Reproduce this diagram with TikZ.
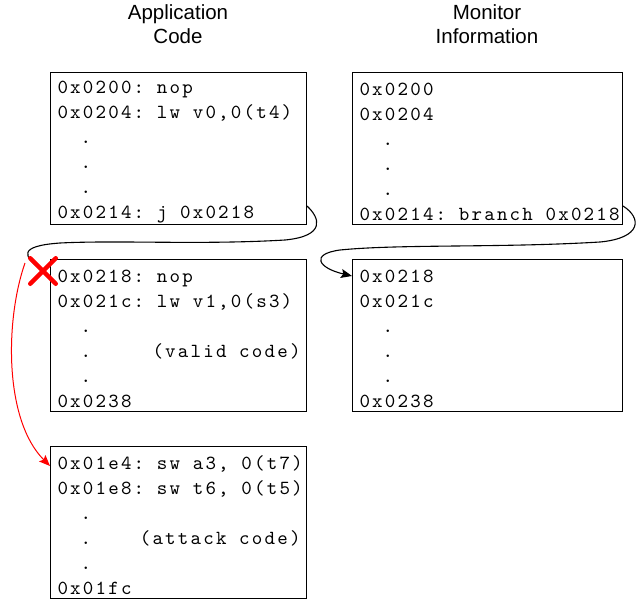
\documentclass[tikz,border=0pt]{standalone}
\usepackage{fontspec}
\setmainfont{Liberation Sans}
\setsansfont{Liberation Sans}
\newfontfamily\codefont{lmmono10-regular.otf}[LetterSpace=11]
\usetikzlibrary{arrows.meta,shapes.misc}

\newcommand\ind{\hphantom{00}}
\newcommand\codestart{\spaceskip=12.7pt\relax\vrule height 20pt width 0pt\relax}

\tikzset{
  title/.style={font=\sffamily\fontsize{20.5pt}{24pt}\selectfont, align=center, inner sep=0pt},
  codebox/.style={draw, line width=1pt, anchor=north west, align=left,
    inner xsep=7pt, inner ysep=0pt, minimum height=152pt, text width=#1,
    font=\codefont\frenchspacing\fontsize{20pt}{25pt}\selectfont,
    execute at begin node=\codestart},
  jump/.style={line width=1.1pt, -{Stealth[length=11pt,width=9pt,inset=2pt]}},
  attack/.style={red, line width=1pt, -{Stealth[length=11pt,width=9pt,inset=2pt]}},
  blocked/.style={cross out, draw=red, line width=4.5pt, line cap=round, minimum size=21pt, inner sep=0pt}
}

\begin{document}
\begin{tikzpicture}[x=1pt, y=-1pt]
\useasboundingbox (0,0) rectangle (637,603);

% ===== Titles =====
\node[title] (apptitle) at (178,24.5) {Application\\Code};
\node[title] (montitle) at (487,24.5) {Monitor\\Information};

% ===== Application code =====
\node[codebox=242pt] (app1) at (50,72) {0x0200: nop\\0x0204: lw v0,0(t4)\\\ind.\\\ind.\\\ind.\\0x0214: j 0x0218};
\node[codebox=242pt] (app2) at (50,259) {0x0218: nop\\0x021c: lw v1,0(s3)\\\ind.\\\ind.\hphantom{00000}(valid code)\\\ind.\\0x0238};
\node[codebox=242pt] (app3) at (50,446) {0x01e4: sw a3, 0(t7)\\0x01e8: sw t6, 0(t5)\\\ind.\\\ind.\hphantom{0000}(attack code)\\\ind.\\0x01fc};

% ===== Monitor information =====
\node[codebox=256pt] (mon1) at (352,72) {0x0200\\0x0204\\\ind.\\\ind.\\\ind.\\0x0214: branch 0x0218};
\node[codebox=256pt] (mon2) at (352,259) {0x0218\\0x021c\\\ind.\\\ind.\\\ind.\\0x0238};

% ===== Jumps =====
\coordinate (jfrom) at ([yshift=19pt]app1.south east);
\coordinate (mfrom) at ([yshift=19pt]mon1.south east);
\coordinate (mto) at ([yshift=-17pt]mon2.north west);
\coordinate (ato) at ([yshift=-20pt]app3.north west);
\coordinate (xpos) at (43,271);
\coordinate (afrom) at (25,263);

\draw[line width=1.1pt] (jfrom) .. controls (320,218) and (326,236) .. (285,240)
  .. controls (200,245) and (120,240) .. (60,243)
  .. controls (18,246) and (22,256) .. (xpos);
\draw[jump] (mfrom) .. controls (642,218) and (642,238) .. (600,242)
  .. controls (500,248) and (400,244) .. (340,250)
  .. controls (310,254) and (318,268) .. (mto);
\draw[attack] (afrom) .. controls (5,320) and (4,420) .. (ato);

\node[blocked] (xmark) at (xpos) {};

\end{tikzpicture}
\end{document}
